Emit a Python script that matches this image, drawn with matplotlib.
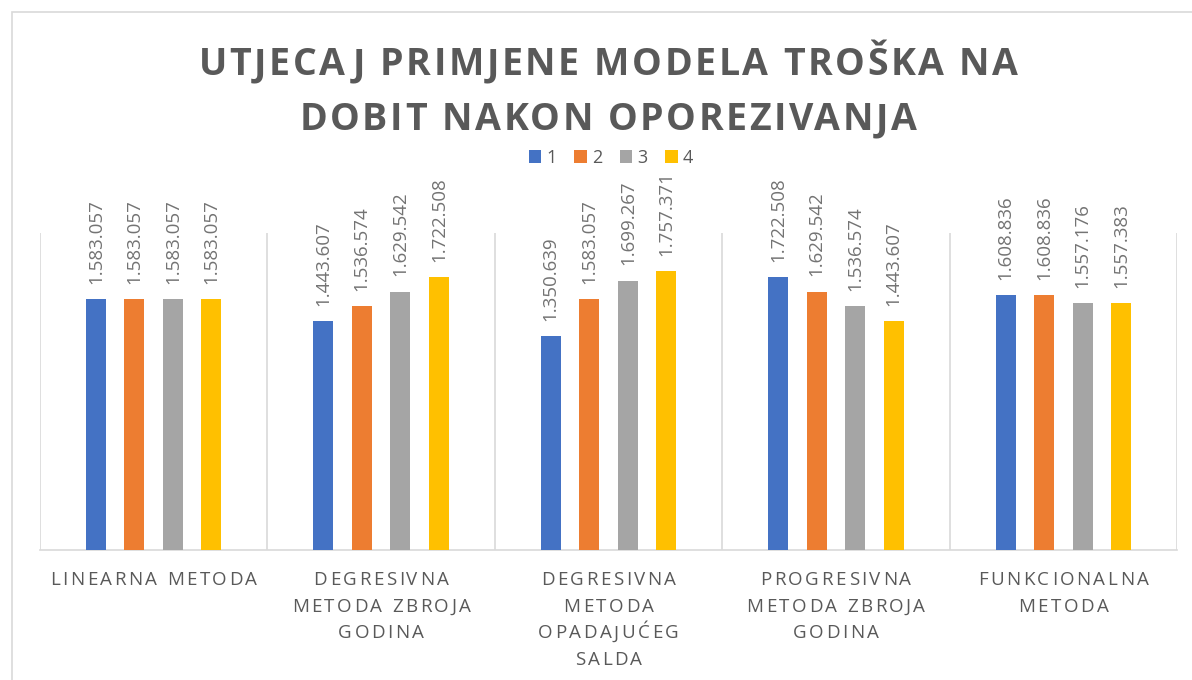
import matplotlib.pyplot as plt
from matplotlib.patches import Rectangle
from matplotlib.font_manager import FontProperties
import numpy as np

categories = ['LINEARNA METODA', 'DEGRESIVNA\nMETODA ZBROJA\nGODINA', 'DEGRESIVNA\nMETODA\nOPADAJUĆEG\nSALDA',
              'PROGRESIVNA\nMETODA ZBROJA\nGODINA', 'FUNKCIONALNA\nMETODA']
series_names = ['1', '2', '3', '4']
s1 = [1583057, 1443607, 1350639, 1722508, 1608836]
s2 = [1583057, 1536574, 1583057, 1629542, 1608836]
s3 = [1583057, 1629542, 1699267, 1536574, 1557176]
s4 = [1583057, 1722508, 1757371, 1443607, 1557383]
title_lines = ['UTJECAJ PRIMJENE MODELA TROŠKA NA', 'DOBIT NAKON OPOREZIVANJA']
colors = ['#4472C4', '#ED7D31', '#A5A5A5', '#FFC000']
TXT = '#595959'

plt.rcParams['font.family'] = ['Open Sans', 'DejaVu Sans']

W, H = 1192, 680
fig = plt.figure(figsize=(W / 100, H / 100), dpi=100)
renderer = fig.canvas.get_renderer()


def fmt(v):
    return f'{v:,}'.replace(',', '.')


def text_w(s, prop):
    if not s:
        return 0.0
    return renderer.get_text_width_height_descent(s, prop, ismath=False)[0]


def spaced_line(xc, y_base, s, prop, spacing, color):
    # draw one line with extra letter spacing, centred on xc (pixels from left),
    # baseline at y_base (pixels from top)
    total = text_w(s, prop) + spacing * (len(s) - 1)
    x0 = xc - total / 2
    for i, ch in enumerate(s):
        if ch == ' ':
            continue
        left = text_w(s[:i + 1], prop) - text_w(ch, prop)
        fig.text((x0 + left + i * spacing) / W, 1 - y_base / H, ch, fontproperties=prop,
                 color=color, ha='left', va='baseline')


# chart border
fig.patches.append(Rectangle((12 / W, -0.1), 1.2, (H - 12) / H + 0.1, transform=fig.transFigure,
                             fill=False, edgecolor='#D9D9D9', lw=1.2))

left_px, right_px, base_px, top_px = 40, 1177, 550, 233
ax = fig.add_axes([left_px / W, (H - base_px) / H, (right_px - left_px) / W, (base_px - top_px) / H])
x = np.arange(len(categories))
width = 0.088
offsets = [-0.254, -0.085, 0.085, 0.254]
for vals, off, c, name in zip([s1, s2, s3, s4], offsets, colors, series_names):
    bars = ax.bar(x + off, vals, width, color=c, label=name, zorder=3)
    for b, v in zip(bars, vals):
        ax.annotate(fmt(v), (b.get_x() + b.get_width() / 2, v), xytext=(0, 11),
                    textcoords='offset points', rotation=90, ha='center', va='bottom',
                    fontsize=13.5, color='#737373')

ax.set_xlim(-0.5, len(categories) - 0.5)
ax.set_ylim(0, 2000000)
ax.set_yticks([])
ax.set_xticks(np.arange(-0.5, len(categories)))
ax.set_xticklabels([])
ax.tick_params(axis='x', length=0)
ax.grid(axis='x', color='#D9D9D9', lw=1.2)
for sp in ['top', 'right', 'left']:
    ax.spines[sp].set_visible(False)
ax.spines['bottom'].set_color('#D9D9D9')
ax.spines['bottom'].set_linewidth(1.2)

# category labels with Excel-like character spacing
cat_prop = FontProperties(family=['Open Sans', 'DejaVu Sans'], size=13.5)
cat_w = (right_px - left_px) / len(categories)
for i, cat in enumerate(categories):
    xc = left_px + cat_w * (i + 0.5)
    for j, line in enumerate(cat.split('\n')):
        spaced_line(xc, 585 + j * 26.7, line, cat_prop, 2.5, TXT)

# title
title_prop = FontProperties(family=['Open Sans', 'DejaVu Sans'], size=27, weight='bold')
for j, line in enumerate(title_lines):
    spaced_line(W / 2 + 12, 75 + j * 55, line, title_prop, 2.6, TXT)

fig.legend(loc='center', bbox_to_anchor=(611 / W, (H - 158) / H), ncol=4, frameon=False,
           fontsize=13, handlelength=0.7, handleheight=0.7, handletextpad=0.3, columnspacing=0.95,
           labelcolor=TXT, borderpad=0)

fig.savefig('out.png', dpi=100, facecolor='white')
